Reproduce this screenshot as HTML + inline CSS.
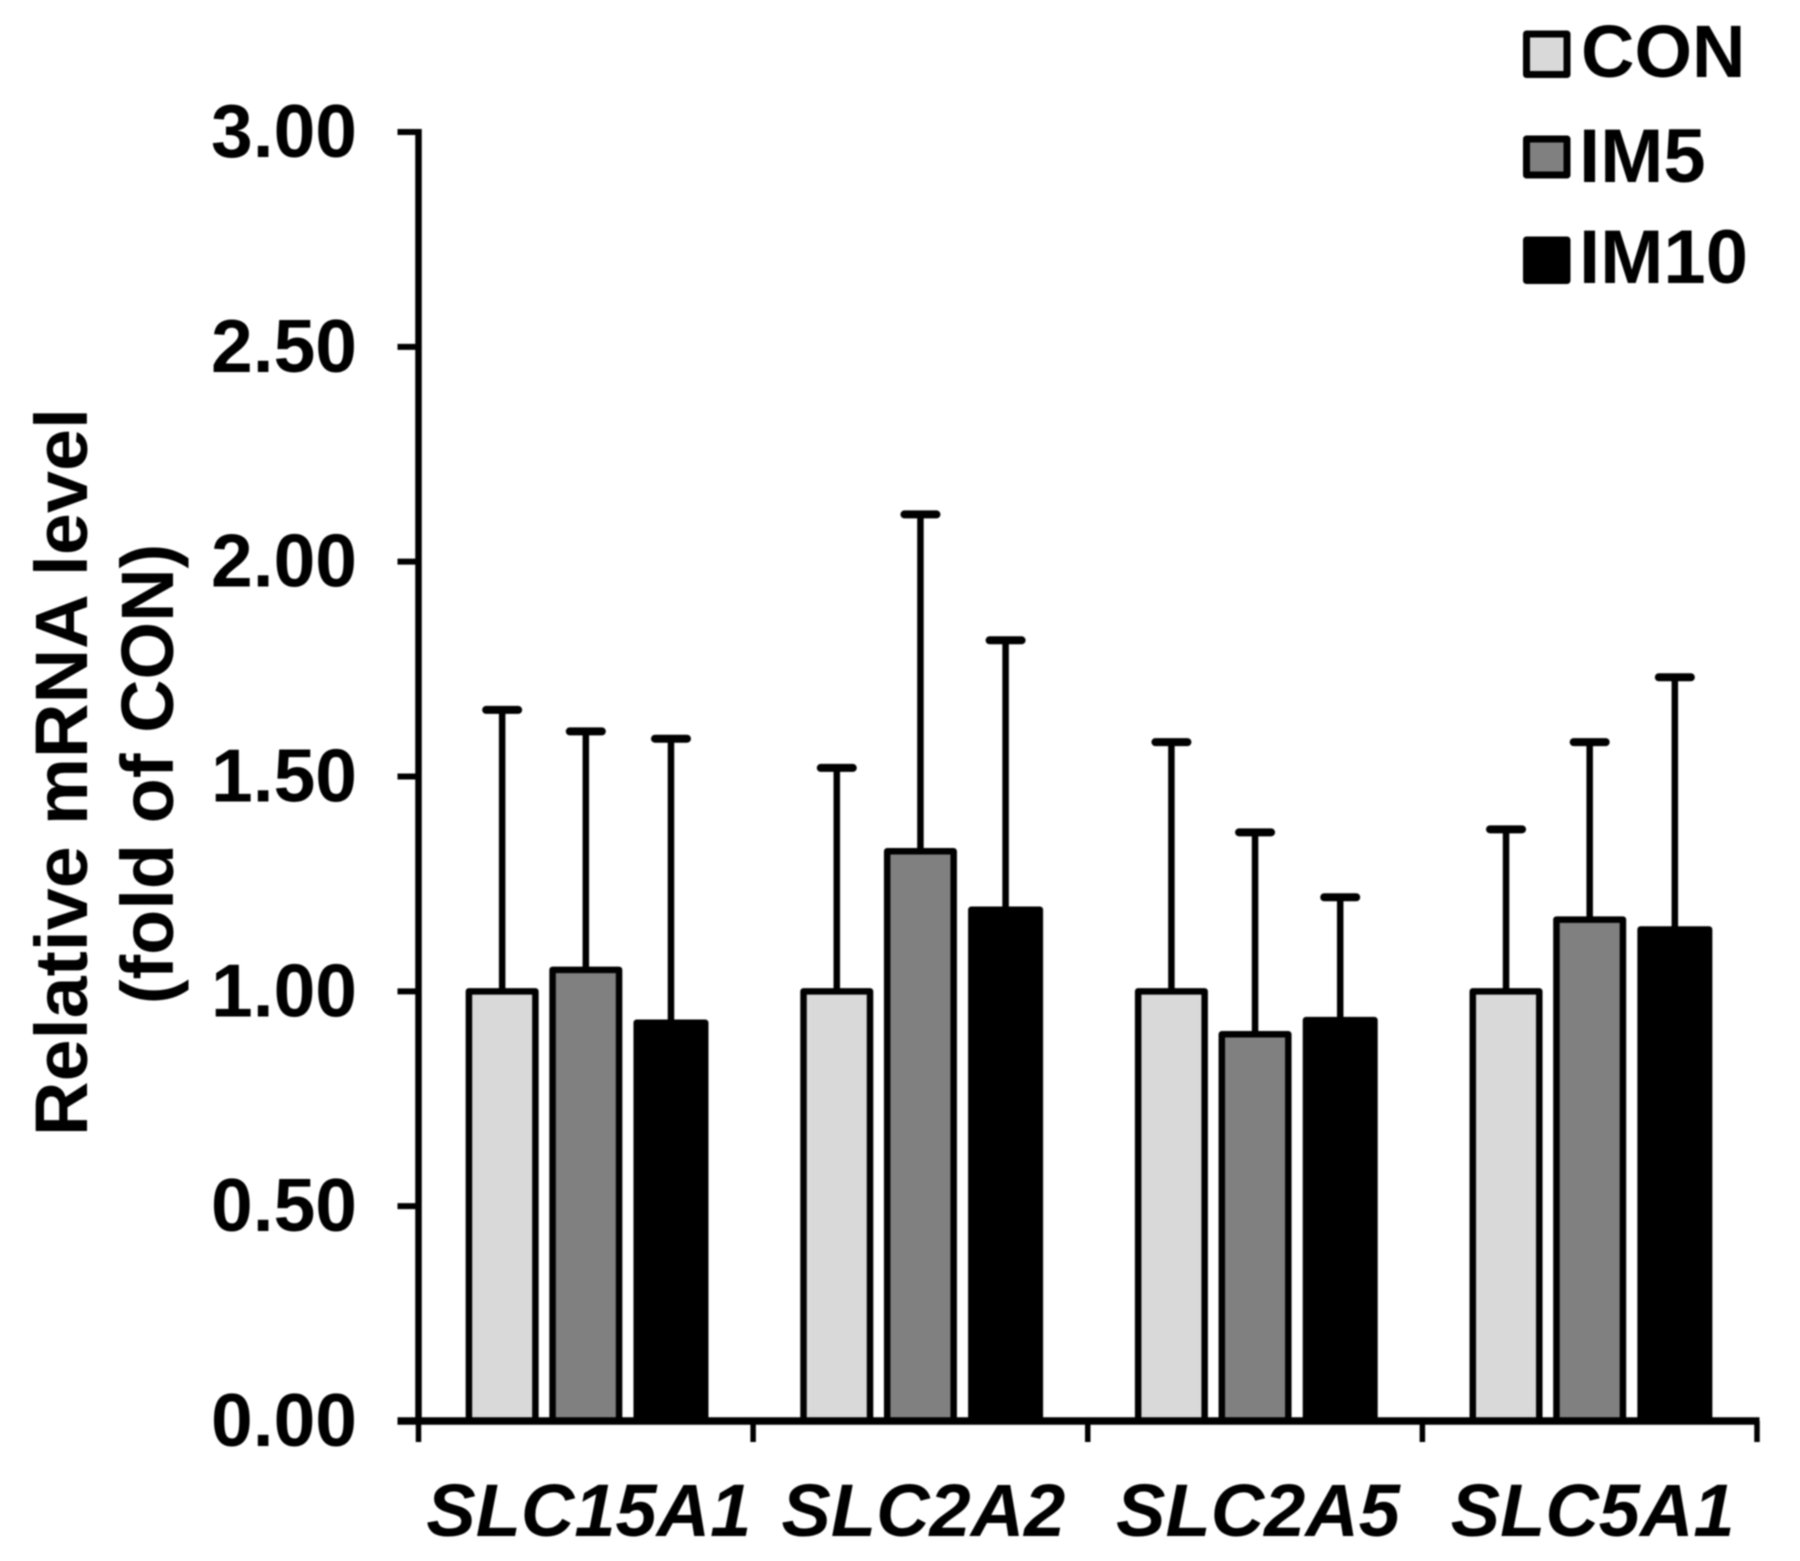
<!DOCTYPE html>
<html lang="en">
<head>
<meta charset="utf-8">
<title>Relative mRNA level chart</title>
<style>
  html, body { margin: 0; padding: 0; background: #fff; }
  #chart { display: block; width: 1800px; height: 1561px; filter: blur(0.8px); }
  text { font-family: "Liberation Sans", Arial, sans-serif; font-weight: bold; fill: #000; font-size: 74px; }
</style>
</head>
<body>
<svg id="chart" xmlns="http://www.w3.org/2000/svg" width="1800" height="1561" viewBox="0 0 1800 1561">
  <rect x="0" y="0" width="1800" height="1561" fill="#fff"/>
  <g id="marks"></g>
  <g id="axes"></g>
  <g>
    <text transform="translate(87,772) rotate(-90)" text-anchor="middle" textLength="728" lengthAdjust="spacingAndGlyphs">Relative mRNA level</text>
    <text transform="translate(173,774) rotate(-90)" text-anchor="middle">(fold of CON)</text>
  </g>
  <g>
    <g>
      <rect x="1526.5" y="34" width="40.5" height="40.5" fill="#d9d9d9" stroke="#000" stroke-width="7" stroke-linejoin="round"/>
      <text x="1581" y="77">CON</text>
    </g>
    <g>
      <rect x="1526.5" y="139" width="40.5" height="36" fill="#808080" stroke="#000" stroke-width="7" stroke-linejoin="round"/>
      <text x="1579" y="182" style="font-size:76px">IM5</text>
    </g>
    <g>
      <rect x="1526.5" y="240" width="40.5" height="40.5" fill="#000" stroke="#000" stroke-width="7" stroke-linejoin="round"/>
      <text x="1579" y="283" style="font-size:76px">IM10</text>
    </g>
  </g>
</svg>
<script>
const categories = ["SLC15A1", "SLC2A2", "SLC2A5", "SLC5A1"];
const seriesNames = ["CON", "IM5", "IM10"];
const conValues = [1.00, 1.00, 1.00, 1.00];
const im5Values = [1.05, 1.326, 0.90, 1.167];
const im10Values = [0.927, 1.19, 0.933, 1.144];
const conErrors = [0.655, 0.52, 0.58, 0.377];
const im5Errors = [0.555, 0.784, 0.47, 0.413];
const im10Errors = [0.661, 0.627, 0.286, 0.587];
const yTickValues = [0, 0.5, 1, 1.5, 2, 2.5, 3];
const yTickLabels = ["0.00", "0.50", "1.00", "1.50", "2.00", "2.50", "3.00"];

const seriesValues = [conValues, im5Values, im10Values];
const seriesErrors = [conErrors, im5Errors, im10Errors];
const seriesFills = ["#d9d9d9", "#808080", "#000000"];

const plotLeft = 418.5, plotRight = 1757, plotTop = 132, plotBottom = 1421;
const yMax = 3;
function yScale(v) { return plotBottom - (v / yMax) * (plotBottom - plotTop); }
function groupStep() { return (plotRight - plotLeft) / categories.length; }
function xEdge(i) { return plotLeft + i * groupStep(); }
function xCenter(i) { return xEdge(i + 0.5); }
function barCenter(i, s) { return xCenter(i) + (s - 1) * 0.25 * groupStep() + (s === 2 ? 1.5 : 0); }
function barOuter(s) { return s === 2 ? 75 : 73; }

const NS = "http://www.w3.org/2000/svg";
const marks = document.getElementById("marks");
const axes = document.getElementById("axes");
function make(tag, parent) {
  const el = document.createElementNS(NS, tag);
  parent.appendChild(el);
  return el;
}
function setLine(el, x1, y1, x2, y2, w) {
  el.setAttribute("x1", x1);
  el.setAttribute("y1", y1);
  el.setAttribute("x2", x2);
  el.setAttribute("y2", y2);
  el.setAttribute("stroke", "#000");
  el.setAttribute("stroke-width", w);
}

const barStroke = 6.5, capHalf = 16;
categories.forEach(function (cat, i) {
  const group = make("g", marks);
  
  
  seriesNames.forEach(function (name, s) {
    const v = seriesValues[s][i];
    const e = seriesErrors[s][i];
    const cx = barCenter(i, s);
    const stem = make("line", group);
    setLine(stem, cx, yScale(v), cx, yScale(v + e), 6.5);
    
    
    const cap = make("line", group);
    setLine(cap, cx - capHalf, yScale(v + e), cx + capHalf, yScale(v + e), 8);
    cap.setAttribute("stroke-linecap", "round");
    
    
    const bar = make("rect", group);
    bar.setAttribute("x", cx - barOuter(s) / 2 + barStroke / 2);
    bar.setAttribute("y", yScale(v));
    bar.setAttribute("width", barOuter(s) - barStroke);
    bar.setAttribute("height", plotBottom - yScale(v));
    bar.setAttribute("fill", seriesFills[s]);
    bar.setAttribute("stroke", "#000");
    bar.setAttribute("stroke-width", barStroke);
    bar.setAttribute("stroke-linejoin", "round");
    
    
  });
});

const yAxisLine = make("line", axes);
setLine(yAxisLine, plotLeft, plotTop - 3, plotLeft, plotBottom, 6.5);



const xAxisLine = make("line", axes);
setLine(xAxisLine, plotLeft - 21, plotBottom, plotRight + 2.5, plotBottom, 7.5);



yTickValues.forEach(function (v, k) {
  const tick = make("line", axes);
  setLine(tick, plotLeft - 21, yScale(v), plotLeft, yScale(v), 6);
  
  
  const label = make("text", axes);
  label.setAttribute("x", 357);
  label.setAttribute("y", yScale(v) + 25);
  label.setAttribute("text-anchor", "end");
  label.style.fontSize = "75px";
  label.textContent = yTickLabels[k];
  
  
});

for (let i = 0; i <= categories.length; i++) {
  const tick = make("line", axes);
  setLine(tick, xEdge(i), plotBottom, xEdge(i), plotBottom + 21, 5.5);
  
  
}

categories.forEach(function (cat, i) {
  const label = make("text", axes);
  label.setAttribute("x", xCenter(i) + 3);
  label.setAttribute("y", 1536);
  label.setAttribute("text-anchor", "middle");
  label.setAttribute("font-style", "italic");
  label.textContent = cat;
  
  
});
</script>
</body>
</html>
